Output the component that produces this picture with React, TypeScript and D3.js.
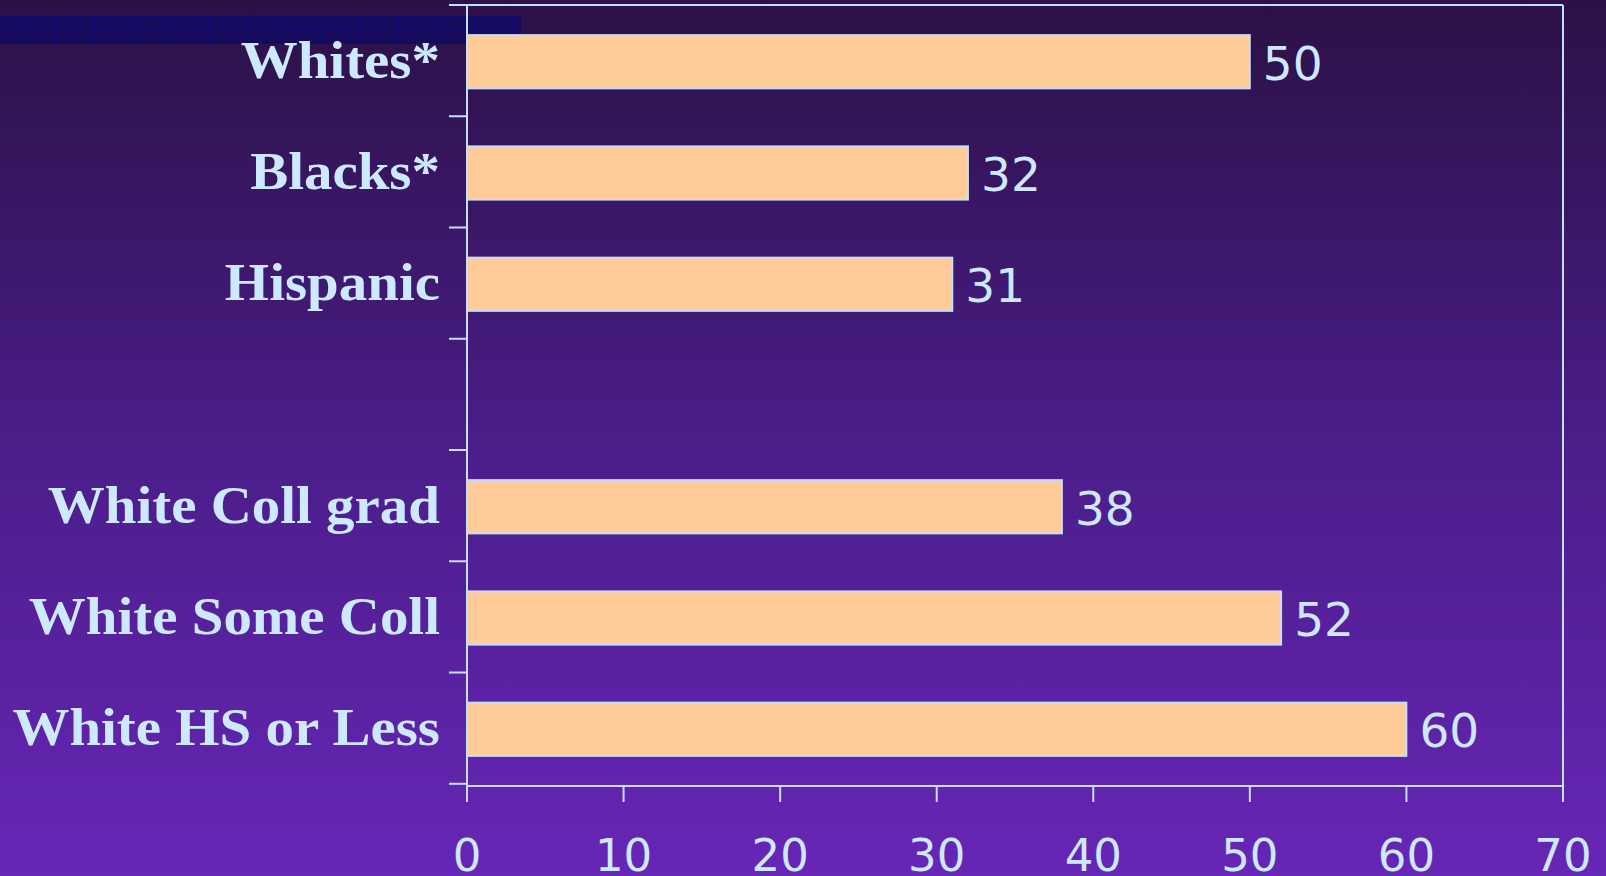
import React from "react";
import * as d3 from "d3";

const categories = ["Whites*", "Blacks*", "Hispanic", "", "White Coll grad", "White Some Coll", "White HS or Less"];
const values: (number | null)[] = [50, 32, 31, null, 38, 52, 60];
const xTicks = [0, 10, 20, 30, 40, 50, 60, 70];

const W = 1606;
const H = 876;
const TXT = "#cce9ff";
const LINE = "#c4e0ff";

export default function App() {
  const left = 467, right = 1563, top = 5, bottom = 786;
  const x = d3.scaleLinear().domain([0, 70]).range([left, right]);
  const y = d3.scaleBand<string>()
    .domain(categories.map((c, i) => String(i)))
    .range([top, bottom])
    .paddingInner(0.52)
    .paddingOuter(0.27);
  const step = y.step();
  const boundaries = d3.range(categories.length + 1).map((i) => top + i * step);

  return (
    <svg width={W} height={H} style={{ position: "fixed", left: 0, top: 0, display: "block" }}>
      <defs>
        <linearGradient id="bg" x1="0" y1="0" x2="0" y2="1">
          <stop offset="0%" stopColor="#2b1146" />
          <stop offset="50%" stopColor="#4a1d88" />
          <stop offset="100%" stopColor="#6726b6" />
        </linearGradient>
        <pattern id="grid" width="9.5" height="9.5" patternUnits="userSpaceOnUse">
          <rect width="9.5" height="9.5" fill="#170b5c" />
          <path d="M9.5 0 V9.5 M0 9.5 H9.5" stroke="#0a0580" strokeWidth="1.2" />
        </pattern>
      </defs>
      <rect x={0} y={0} width={W} height={H} fill="url(#bg)" />
      <rect x={0} y={16} width={521} height={28} fill="url(#grid)" />

      {/* frame */}
      <line x1={left} x2={right} y1={top} y2={top} stroke={LINE} strokeWidth={2} />
      <line x1={right} x2={right} y1={top} y2={bottom} stroke={LINE} strokeWidth={2} />
      <line x1={left} x2={left} y1={top} y2={bottom} stroke={LINE} strokeWidth={2} />
      <line x1={left} x2={right} y1={bottom} y2={bottom} stroke={LINE} strokeWidth={2} />

      {/* y ticks */}
      {boundaries.map((b, i) => (
        <line key={"yt" + i} x1={left - 18} x2={left} y1={b} y2={b} stroke={LINE} strokeWidth={2} />
      ))}
      {/* x ticks */}
      {xTicks.map((t) => (
        <g key={"xt" + t}>
          <line x1={x(t)} x2={x(t)} y1={bottom} y2={bottom + 16} stroke={LINE} strokeWidth={2} />
          <text x={x(t)} y={871} fill={TXT} fontFamily="DejaVu Sans, Verdana, sans-serif" fontSize={45} textAnchor="middle">
            {t}
          </text>
        </g>
      ))}

      {/* bars */}
      {categories.map((c, i) => {
        const v = values[i];
        const by = y(String(i)) as number;
        const bw = y.bandwidth();
        const cy = by + bw / 2;
        return (
          <g key={"b" + i}>
            {c && (
              <text
                x={440}
                y={cy + 16}
                fill={TXT}
                fontFamily="Liberation Serif, Times New Roman, serif"
                fontWeight="bold"
                fontSize={52}
                textAnchor="end"
                transform={`translate(440 0) scale(1.095 1) translate(-440 0)`}
              >
                {c}
              </text>
            )}
            {v !== null && (
              <>
                <rect x={x(0)} y={by} width={x(v) - x(0)} height={bw} fill="#ffcc99" stroke={LINE} strokeWidth={1.8} />
                <text x={x(v) + 13} y={cy + 18} fill={TXT} fontFamily="DejaVu Sans, Verdana, sans-serif" fontSize={47}>
                  {v}
                </text>
              </>
            )}
          </g>
        );
      })}
    </svg>
  );
}
